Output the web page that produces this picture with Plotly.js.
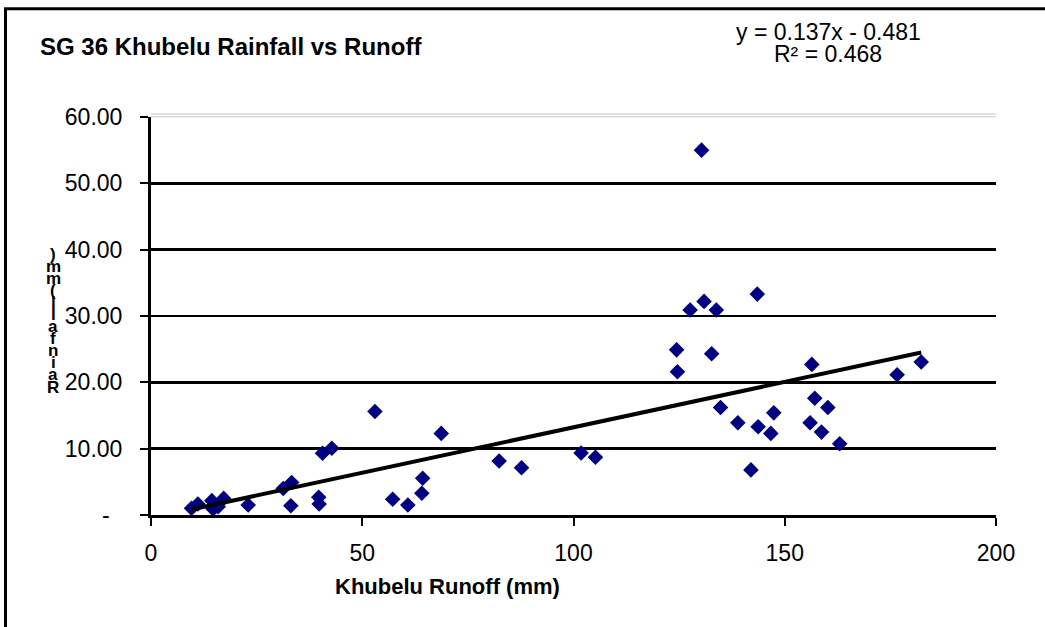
<!DOCTYPE html>
<html>
<head>
<meta charset="utf-8">
<script src="https://cdn.plot.ly/plotly-3.0.1.min.js"></script>
<style>
  html, body { margin: 0; padding: 0; background: #ffffff; }
  #chart { width: 1045px; height: 627px; }
</style>
</head>
<body>
<div id="chart"></div>
<script>
// ---- Data ----
const runoff = [9.6, 11.1, 14.4, 14.7, 15.9, 17.2, 23.0, 31.3, 33.3, 33.1,
  39.7, 39.8, 40.6, 42.8, 53.0, 57.2, 60.8, 64.1, 64.3, 68.7,
  82.4, 87.7, 101.8, 105.2, 124.6, 124.4, 127.6, 130.9, 130.3, 132.7,
  133.8, 134.8, 138.9, 142.0, 143.7, 143.5, 146.7, 147.4, 156.0, 156.4,
  157.1, 158.7, 160.2, 163.0, 176.6, 182.3];
const rainfall = [1.0, 1.66, 2.16, 0.9, 1.25, 2.5, 1.5, 4.0, 4.9, 1.4,
  2.67, 1.66, 9.3, 10.06, 15.6, 2.37, 1.5, 3.27, 5.53, 12.3,
  8.14, 7.13, 9.35, 8.7, 21.6, 24.9, 30.9, 32.2, 55.0, 24.3,
  30.9, 16.2, 13.9, 6.8, 13.3, 33.3, 12.3, 15.4, 13.9, 22.7,
  17.6, 12.5, 16.2, 10.75, 21.15, 23.07];
const trendSlope = 0.137;
const trendIntercept = -0.481;
const r2 = 0.468;
const yTickVals = [0, 10, 20, 30, 40, 50, 60];
const yTickText = ['-\u00a0\u00a0', '10.00', '20.00', '30.00', '40.00', '50.00', '60.00'];
const xTickVals = [0, 50, 100, 150, 200];
const titleText = 'SG 36 Khubelu Rainfall vs Runoff';
const xTitleText = 'Khubelu Runoff (mm)';
const yTitleText = 'Rainfall(mm)';

// ---- Trend line endpoints from data range ----
const xMin = Math.min(...runoff), xMax = Math.max(...runoff);
const trendX = [xMin, xMax];
const trendY = trendX.map(v => trendSlope * v + trendIntercept);

// ---- Geometry helpers (pixel -> paper) ----
const W = 1045, H = 627;
const L = 151, R = 996, T = 117, B = 515;
const px2x = p => (p - L) / (R - L);
const py2y = p => (B - p) / (B - T);

const FONT = 'Liberation Sans, Arial, sans-serif';

const annotations = [];
// Equation
annotations.push({
  xref: 'paper', yref: 'paper', x: px2x(828), y: py2y(32),
  xanchor: 'center', yanchor: 'middle', showarrow: false,
  text: 'y = ' + trendSlope.toFixed(3) + 'x - ' + Math.abs(trendIntercept).toFixed(3),
  font: { family: FONT, size: 23, color: '#000' }
});
annotations.push({
  xref: 'paper', yref: 'paper', x: px2x(828), y: py2y(54),
  xanchor: 'center', yanchor: 'middle', showarrow: false,
  text: 'R² = ' + r2.toFixed(3),
  font: { family: FONT, size: 23, color: '#000' }
});
// X axis title
annotations.push({
  xref: 'paper', yref: 'paper', x: px2x(447), y: py2y(586),
  xanchor: 'center', yanchor: 'middle', showarrow: false,
  text: '<b>' + xTitleText + '</b>',
  font: { family: FONT, size: 22, color: '#000' }
});
// Stacked (reversed) y axis title, as in the reference
const yChars = yTitleText.split('');
const yTop = 254, yBot = 387;
yChars.forEach((c, i) => {
  const py = yBot - i * (yBot - yTop) / (yChars.length - 1);
  annotations.push({
    xref: 'paper', yref: 'paper', x: px2x(53), y: py2y(py),
    xanchor: 'center', yanchor: 'middle', showarrow: false,
    text: '<b>' + c + '</b>',
    font: { family: FONT, size: 17, color: '#000' }
  });
});

const shapes = [
  // outer chart border (left + top visible)
  { type: 'line', xref: 'paper', yref: 'paper',
    x0: px2x(5.5), x1: px2x(5.5), y0: py2y(640), y1: py2y(8.7),
    line: { color: '#000', width: 3 }, layer: 'below' },
  { type: 'line', xref: 'paper', yref: 'paper',
    x0: px2x(4), x1: px2x(1060), y0: py2y(8.7), y1: py2y(8.7),
    line: { color: '#000', width: 3 }, layer: 'below' },
  // gray plot-area top edge
  { type: 'line', xref: 'paper', yref: 'y', x0: 0, x1: 1, y0: 60, y1: 60,
    line: { color: '#ffffff', width: 4 }, layer: 'above' },
  { type: 'line', xref: 'paper', yref: 'paper', x0: 0, x1: 1, y0: py2y(114), y1: py2y(114),
    line: { color: '#c8c8c8', width: 1 }, layer: 'above' },
  { type: 'line', xref: 'paper', yref: 'paper', x0: 0, x1: 1, y0: py2y(116.7), y1: py2y(116.7),
    line: { color: '#c8c8c8', width: 1 }, layer: 'above' }
];

const traces = [
  {
    type: 'scatter', mode: 'markers', x: runoff, y: rainfall,
    marker: { symbol: 'diamond', size: 12, color: '#000080', line: { width: 0 } },
    hoverinfo: 'x+y', showlegend: false
  },
  {
    type: 'scatter', mode: 'lines', x: trendX, y: trendY,
    line: { color: '#000000', width: 4 }, hoverinfo: 'skip', showlegend: false
  }
];

const layout = {
  width: W, height: H,
  margin: { l: L, r: W - R, t: T, b: H - B, pad: 0 },
  paper_bgcolor: '#ffffff', plot_bgcolor: '#ffffff',
  showlegend: false,
  title: {
    text: '<b>' + titleText + '</b>',
    xref: 'container', yref: 'container',
    x: 40 / W, xanchor: 'left', y: 1 - 47 / H, yanchor: 'middle',
    font: { family: FONT, size: 24, color: '#000' }
  },
  xaxis: {
    range: [0, 200], tickvals: xTickVals, ticktext: xTickVals.map(String),
    showgrid: false, zeroline: false,
    showline: true, linecolor: '#000', linewidth: 3,
    ticks: 'outside', ticklen: 8, tickwidth: 2, tickcolor: '#000',
    ticklabelstandoff: 7,
    tickfont: { family: FONT, size: 23, color: '#000' },
    fixedrange: true
  },
  yaxis: {
    range: [0, 60], tickvals: yTickVals, ticktext: yTickText,
    showgrid: true, gridcolor: '#000', gridwidth: 2.5,
    zeroline: false,
    showline: true, linecolor: '#000', linewidth: 3,
    ticks: 'outside', ticklen: 8, tickwidth: 2, tickcolor: '#000',
    ticklabelstandoff: 13,
    tickfont: { family: FONT, size: 23, color: '#000' },
    fixedrange: true
  },
  annotations: annotations,
  shapes: shapes
};

Plotly.newPlot('chart', traces, layout, { displayModeBar: false, staticPlot: true });
</script>
</body>
</html>
